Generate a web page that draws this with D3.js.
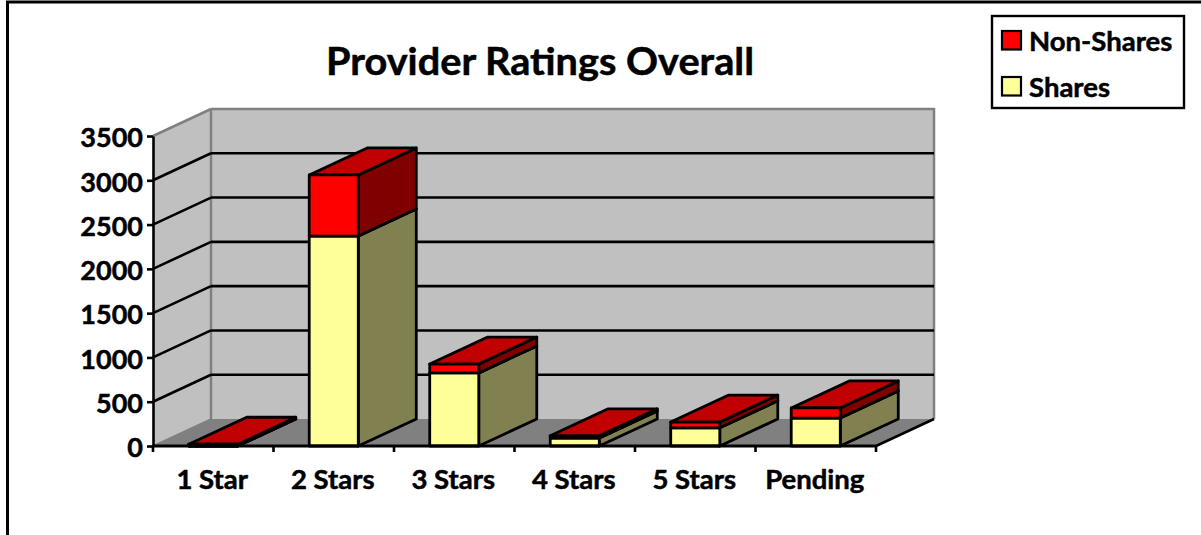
<!DOCTYPE html>
<html><head><meta charset="utf-8">
<script src="https://cdn.jsdelivr.net/npm/d3@7/dist/d3.min.js"></script>
<style>html,body{margin:0;padding:0;background:#fff;overflow:hidden}svg{display:block}
text{font-family:Lato,"Open Sans",sans-serif;font-weight:700;fill:#000;stroke:#000;stroke-width:.5px}</style>
</head><body><svg id="c" width="1201" height="535"></svg>
<script>
const categories=["1 Star","2 Stars","3 Stars","4 Stars","5 Stars","Pending"];
const shares=[0,2370,825,90,205,315];
const nonShares=[20,690,100,25,65,115];
const seriesNames=["Non-Shares","Shares"];
const yTicks=[0,500,1000,1500,2000,2500,3000,3500];
const titleText="Provider Ratings Overall";

const DX=58,DY=-27;
const svg=d3.select("#c");
const x=d3.scaleBand().domain(categories).range([153,876]).paddingInner(.593).paddingOuter(.2965);
const y=d3.scaleLinear().domain([0,3500]).range([446,136]);
const poly=(pts,fill,stroke,sw)=>svg.append("polygon").attr("points",pts.map(p=>p.join(",")).join(" "))
  .attr("fill",fill).attr("stroke",stroke||"none").attr("stroke-width",sw||0).attr("stroke-linejoin","round");
const line=(a,b,stroke,sw)=>svg.append("line").attr("x1",a[0]).attr("y1",a[1]).attr("x2",b[0]).attr("y2",b[1])
  .attr("stroke",stroke).attr("stroke-width",sw);

// outer frame (cropped by the page on the right and bottom)
svg.append("path").attr("d","M7.5,540V2H1210").attr("fill","none").attr("stroke","#000").attr("stroke-width",3);

// title
svg.append("text").attr("x",540).attr("y",75).attr("text-anchor","middle").attr("font-size",38)
  .attr("textLength",428).attr("lengthAdjust","spacingAndGlyphs").text(titleText);

// walls and floor
const x0=x.range()[0],x1=x.range()[1],yb=y(0),yt=y(3500);
poly([[x0+DX,yb+DY],[x1+DX,yb+DY],[x1+DX,yt+DY],[x0+DX,yt+DY]],"#c0c0c0");
poly([[x0,yb],[x0+DX,yb+DY],[x0+DX,yt+DY],[x0,yt]],"#c0c0c0");
poly([[x0,yb],[x1,yb],[x1+DX,yb+DY],[x0+DX,yb+DY]],"#808080");
line([x0,yt],[x0+DX,yt+DY],"#808080",2.5);
line([x0+DX,yt+DY],[x1+DX,yt+DY],"#808080",2.5);
line([x0+DX,yt+DY],[x0+DX,yb+DY],"#808080",2.5);
line([x1+DX,yt+DY-1],[x1+DX,yb+DY],"#808080",2.5);
line([x0,yb],[x0+DX,yb+DY],"#808080",1.5);

// gridlines
yTicks.filter(t=>t>0&&t<3500).forEach(t=>{
  line([x0,y(t)],[x0+DX,y(t)+DY],"#000",2.6);
  line([x0+DX,y(t)+DY],[x1+DX,y(t)+DY],"#000",2.6);
});
line([x1,yb],[x1+DX,yb+DY],"#000",2.6);

// bars
const box=(i,v0,v1,front,side,top)=>{
  const l=x(categories[i]),r=l+x.bandwidth(),a=y(v0),b=y(v1);
  poly([[r,a],[r+DX,a+DY],[r+DX,b+DY],[r,b]],side,"#000",2.8);
  poly([[l,b],[r,b],[r+DX,b+DY],[l+DX,b+DY]],top,"#000",2.8);
  poly([[l,a],[r,a],[r,b],[l,b]],front,"#000",2.8);
};
categories.forEach((c,i)=>{
  box(i,0,shares[i],"#ffff99","#808050","#808050");
  box(i,shares[i],shares[i]+nonShares[i],"#ff0000","#800000","#c00000");
});

// axes
svg.append("g").attr("transform",`translate(${x0},0)`)
  .call(d3.axisLeft(y).tickValues(yTicks).tickFormat(d3.format("d")).tickSize(6).tickSizeOuter(0).tickPadding(4))
  .call(g=>{g.selectAll("path,line").attr("stroke","#000").attr("stroke-width",2.6);
    g.selectAll("text").attr("font-size",27).attr("dy","0.4em");g.attr("font-family",null).attr("font-size",null);});
const edges=d3.range(categories.length+1).map(i=>x0+i*x.step());
svg.append("g").selectAll("line").data(edges).join("line")
  .attr("x1",d=>d).attr("x2",d=>d).attr("y1",yb).attr("y2",yb+6).attr("stroke","#000").attr("stroke-width",2.6);
line([x0,yb],[x1,yb],"#000",2.8);
svg.append("g").selectAll("text").data(categories).join("text")
  .attr("x",d=>x(d)+x.bandwidth()/2-1).attr("y",489).attr("text-anchor","middle").attr("font-size",27.5).text(d=>d);

// legend
svg.append("rect").attr("x",992).attr("y",16).attr("width",192).attr("height",92).attr("fill","#fff").attr("stroke","#000").attr("stroke-width",2.4);
const lg=[{n:seriesNames[0],c:"#ff0000",y:31,t:51},{n:seriesNames[1],c:"#ffff99",y:77,t:97}];
lg.forEach(d=>{
  svg.append("rect").attr("x",1002).attr("y",d.y).attr("width",19).attr("height",18.5).attr("fill",d.c).attr("stroke","#000").attr("stroke-width",2.2);
  svg.append("text").attr("x",1029).attr("y",d.t).attr("font-size",27.5).text(d.n);
});
</script></body></html>
